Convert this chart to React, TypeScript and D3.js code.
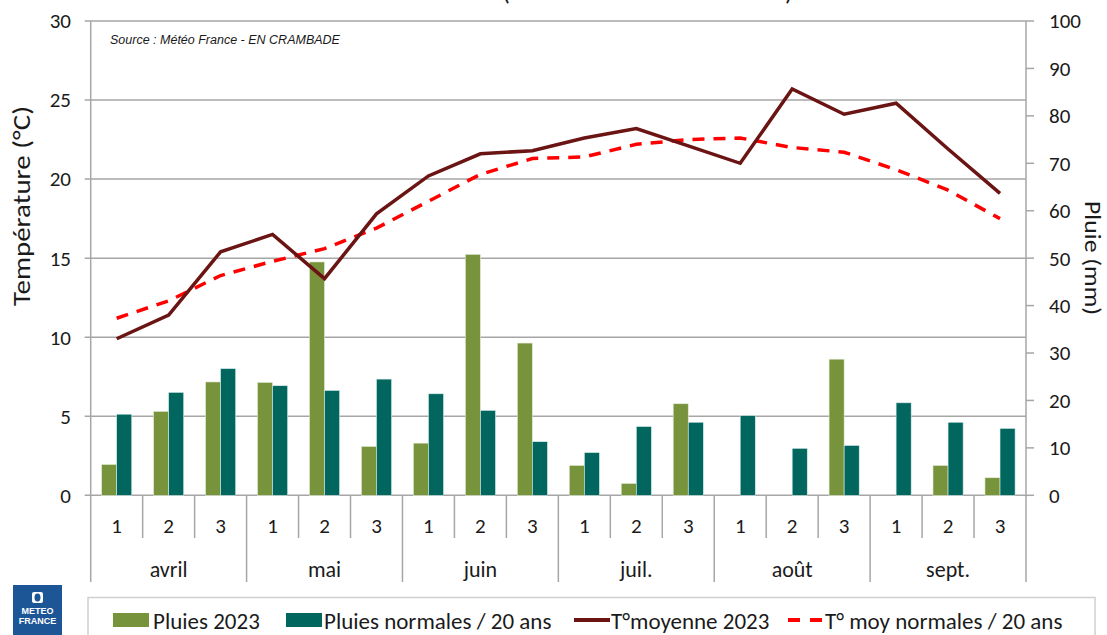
import React from "react";
import * as d3 from "d3";

// Decades (1,2,3) of each month, avril -> septembre 2023
const months = ["avril", "mai", "juin", "juil.", "août", "sept."];
const decades = ["1", "2", "3"];

// Rain (mm), right axis
const pluies2023 = [6.5, 17.7, 23.9, 23.8, 49.2, 10.3, 11.0, 50.8, 32.1, 6.3, 2.5, 19.3, 0, 0, 28.7, 0, 6.3, 3.7];
const pluiesNormales = [17.1, 21.7, 26.7, 23.1, 22.1, 24.5, 21.4, 17.9, 11.3, 9.0, 14.5, 15.4, 16.8, 9.9, 10.5, 19.5, 15.4, 14.1];

// Temperature (°C), left axis
const tMoy2023 = [9.9, 11.4, 15.4, 16.5, 13.7, 17.8, 20.2, 21.6, 21.8, 22.6, 23.2, 22.1, 21.0, 25.7, 24.1, 24.8, 21.9, 19.1];
const tMoyNormales = [11.2, 12.3, 13.9, 14.8, 15.6, 16.9, 18.6, 20.3, 21.3, 21.4, 22.2, 22.5, 22.6, 22.0, 21.7, 20.6, 19.3, 17.5];

const tempTicks = [0, 5, 10, 15, 20, 25, 30];
const rainTicks = [0, 10, 20, 30, 40, 50, 60, 70, 80, 90, 100];

const FONT = "Carlito, Calibri, Lato, 'Open Sans', sans-serif";
const GRID = "#a6a6a6";
const TXT = "#1a1a1a";
const GREEN = "#77933c";
const TEAL = "#00665e";
const DARKRED = "#6b1414";
const RED = "#ff0000";

const App = () => {
  const width = 1107;
  const height = 635;
  const left = 90.7;
  const right = 1026;
  const top = 21;
  const bottom = 495.3;

  const slots = d3.range(months.length * decades.length);

  const x = d3.scaleBand<number>().domain(slots).range([left, right]).padding(0);
  const yT = d3.scaleLinear().domain([0, 30]).range([bottom, top]);
  const yR = d3.scaleLinear().domain([0, 100]).range([bottom, top]);

  const bw = x.bandwidth() * 0.29;
  const cx = (i: number) => (x(i) as number) + x.bandwidth() / 2;

  const line = d3
    .line<number>()
    .x((d, i) => cx(i))
    .y((d) => yT(d));

  return (
    <svg
      width={width}
      height={height}
      style={{ position: "absolute", left: 0, top: 0, background: "#fff" }}
      fontFamily={FONT}
    >
      {/* title, cut off by the frame */}
      <text x={506} y={0} fontSize={26} fill={TXT} textAnchor="middle">(</text>
      <text x={789} y={0} fontSize={26} fill={TXT} textAnchor="middle">)</text>

      {/* horizontal grid */}
      {tempTicks.map((t) => (
        <g key={"g" + t}>
          <line x1={left - 6} x2={right} y1={yT(t)} y2={yT(t)} stroke={GRID} strokeWidth={1.5} />
          <text x={71} y={yT(t)} dy="0.35em" fontSize={21} textAnchor="end" fill={TXT}>
            {t}
          </text>
        </g>
      ))}

      {/* axes lines */}
      <line x1={left} x2={left} y1={top} y2={bottom} stroke={GRID} strokeWidth={1.5} />
      <line x1={right} x2={right} y1={top} y2={bottom} stroke={GRID} strokeWidth={1.5} />

      {/* right axis */}
      {rainTicks.map((t) => (
        <g key={"r" + t}>
          <line x1={right} x2={right + 8} y1={yR(t)} y2={yR(t)} stroke={GRID} strokeWidth={1.5} />
          <text x={1049} y={yR(t)} dy="0.35em" fontSize={21} fill={TXT}>
            {t}
          </text>
        </g>
      ))}

      <text
        transform={`translate(22, 206) rotate(-90)`}
        fontSize={24}
        textAnchor="middle"
        dy="0.35em"
        fill={TXT}
        textLength={200}
        lengthAdjust="spacingAndGlyphs"
      >
        Température (°C)
      </text>
      <text
        transform={`translate(1093, 258) rotate(90)`}
        fontSize={22}
        textAnchor="middle"
        dy="0.35em"
        fill={TXT}
        textLength={114}
        lengthAdjust="spacingAndGlyphs"
      >
        Pluie (mm)
      </text>

      <text x={110} y={44} fontSize={12.5} fontStyle="italic" fontFamily="'Liberation Sans', Arial, sans-serif" fill={TXT}>
        Source : Météo France - EN CRAMBADE
      </text>

      {/* bars */}
      {slots.map((i) => (
        <g key={"b" + i}>
          {pluies2023[i] > 0 && (
            <rect
              x={cx(i) - bw}
              y={yR(pluies2023[i])}
              width={bw}
              height={bottom - yR(pluies2023[i])}
              fill={GREEN}
              stroke="#e6eed8"
              strokeWidth={0.6}
            />
          )}
          <rect
            x={cx(i)}
            y={yR(pluiesNormales[i])}
            width={bw}
            height={bottom - yR(pluiesNormales[i])}
            fill={TEAL}
            stroke="#d8ecea"
            strokeWidth={0.6}
          />
        </g>
      ))}

      {/* lines */}
      <path d={line(tMoyNormales) || ""} fill="none" stroke={RED} strokeWidth={3.5} strokeDasharray="12 9" />
      <path d={line(tMoy2023) || ""} fill="none" stroke={DARKRED} strokeWidth={3.5} strokeLinejoin="miter" />

      {/* category axis */}
      {d3.range(slots.length + 1).map((k) => {
        const xx = k < slots.length ? (x(k) as number) : right;
        const isMonth = k % 3 === 0;
        return (
          <line
            key={"c" + k}
            x1={xx}
            x2={xx}
            y1={bottom}
            y2={isMonth ? 582 : 538}
            stroke={GRID}
            strokeWidth={1.5}
          />
        );
      })}
      {slots.map((i) => (
        <text key={"d" + i} x={cx(i)} y={526} dy="0.35em" fontSize={21} textAnchor="middle" fill={TXT}>
          {decades[i % 3]}
        </text>
      ))}
      {months.map((m, j) => (
        <text
          key={"m" + m}
          x={((x(j * 3) as number) + (j * 3 + 3 < slots.length ? (x(j * 3 + 3) as number) : right)) / 2}
          y={569}
          dy="0.35em"
          fontSize={22}
          textAnchor="middle"
          fill={TXT}
        >
          {m}
        </text>
      ))}

      {/* logo */}
      <rect x={13} y={585} width={49} height={55} fill="#1d5697" />
      <rect x={32} y={592} width={11} height={11} rx={2} fill="#fff" />
      <ellipse cx={37.5} cy={597.5} rx={3} ry={4} fill="#1d5697" />
      <text x={37.5} y={614} fontSize={9} fontWeight="bold" fill="#fff" textAnchor="middle" fontFamily="'Liberation Sans Narrow', 'Liberation Sans', Arial, sans-serif">
        METEO
      </text>
      <text x={37.5} y={624} fontSize={9} fontWeight="bold" fill="#fff" textAnchor="middle" fontFamily="'Liberation Sans Narrow', 'Liberation Sans', Arial, sans-serif">
        FRANCE
      </text>

      {/* legend */}
      <rect x={88} y={597.5} width={1007} height={50} fill="#fff" stroke="#d0d0d0" strokeWidth={1.5} />
      <rect x={113} y={613} width={36} height={14} fill={GREEN} />
      <text x={153} y={621} dy="0.35em" fontSize={23} fill={TXT}>Pluies 2023</text>
      <rect x={286} y={613} width={36} height={14} fill={TEAL} />
      <text x={324} y={621} dy="0.35em" fontSize={23} fill={TXT}>Pluies normales / 20 ans</text>
      <line x1={574} x2={610} y1={620} y2={620} stroke={DARKRED} strokeWidth={4} />
      <text x={611} y={621} dy="0.35em" fontSize={23} fill={TXT}>T°moyenne 2023</text>
      <line x1={788} x2={824} y1={620} y2={620} stroke={RED} strokeWidth={4} strokeDasharray="12 10" />
      <text x={825} y={621} dy="0.35em" fontSize={23} fill={TXT}>T° moy normales / 20 ans</text>
    </svg>
  );
};

export default App;
